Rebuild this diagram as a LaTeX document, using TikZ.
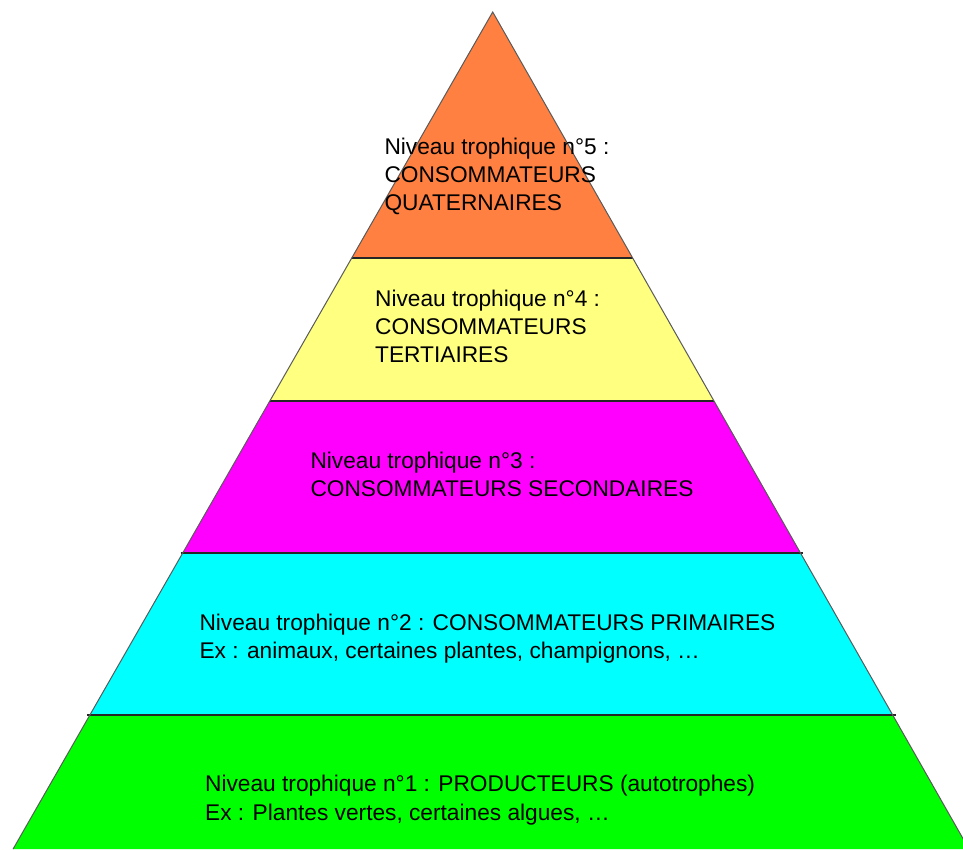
\documentclass[tikz,border=0pt]{standalone}
\usepackage{fontspec}
\setmainfont{Liberation Sans}
\definecolor{lvlfive}{HTML}{FF8040}
\definecolor{lvlfour}{HTML}{FFFF80}
\definecolor{lvlthree}{HTML}{FF00FF}
\definecolor{lvltwo}{HTML}{00FFFF}
\definecolor{lvlone}{HTML}{00FF00}
\definecolor{edgegray}{HTML}{5A5A5A}
\tikzset{
  lvltext/.style={anchor=north west, inner sep=0pt, align=left, text=black,
    font=\fontsize{22.7pt}{28pt}\selectfont},
  sep/.style={draw=black!85, line width=1.3pt},
  side/.style={draw=edgegray, line width=1pt}
}
\newcommand{\firstline}{\rule{0pt}{20pt}}
\begin{document}
\begin{tikzpicture}[x=1pt,y=-1pt]
\useasboundingbox (0,0) rectangle (963,849);
\clip (0,0) rectangle (963,849);
% key points
\coordinate (apex) at (492.7,12);
\coordinate (l5) at (351.7,258); \coordinate (r5) at (632.7,258);
\coordinate (l4) at (269.8,401); \coordinate (r4) at (714.0,401);
\coordinate (l3) at (182.7,553); \coordinate (r3) at (800.5,553);
\coordinate (l2) at (89.9,715);  \coordinate (r2) at (892.7,715);
\coordinate (l1) at (13.1,849);  \coordinate (r1) at (968.9,849);
% fills
\fill[lvlfive] (apex) -- (r5) -- (l5) -- cycle;
\fill[lvlfour] (l5) -- (r5) -- (r4) -- (l4) -- cycle;
\fill[lvlthree] (l4) -- (r4) -- (r3) -- (l3) -- cycle;
\fill[lvltwo] (l3) -- (r3) -- (r2) -- (l2) -- cycle;
\fill[lvlone] (l2) -- (r2) -- (r1) -- (l1) -- cycle;
% separators
\draw[sep] (l5) -- (r5);
\draw[sep] (l4) -- (r4);
\draw[sep] ([xshift=-2pt]l3) -- ([xshift=2pt]r3);
\draw[sep] ([xshift=-3pt]l2) -- ([xshift=3pt]r2);
% sides
\draw[side] (l1) -- (apex) -- (r1);
% texts
\node[lvltext] (t5) at (384.3,134) {\firstline Niveau trophique n°5 :\\CONSOMMATEURS\\QUATERNAIRES};
\node[lvltext] (t4) at (375,286.7) {\firstline Niveau trophique n°4 :\\CONSOMMATEURS\\TERTIAIRES};
\node[lvltext] (t3) at (310.3,448) {\firstline Niveau trophique n°3 :\\CONSOMMATEURS SECONDAIRES};
\node[lvltext] (t2) at (199.3,610) {\firstline Niveau trophique n°2 : CONSOMMATEURS PRIMAIRES\\Ex : animaux, certaines plantes, champignons, …};
\node[lvltext,font=\fontsize{22.7pt}{29pt}\selectfont] (t1) at (205,771) {\firstline Niveau trophique n°1 : PRODUCTEURS (autotrophes)\\Ex : Plantes vertes, certaines algues, …};
\end{tikzpicture}
\end{document}
